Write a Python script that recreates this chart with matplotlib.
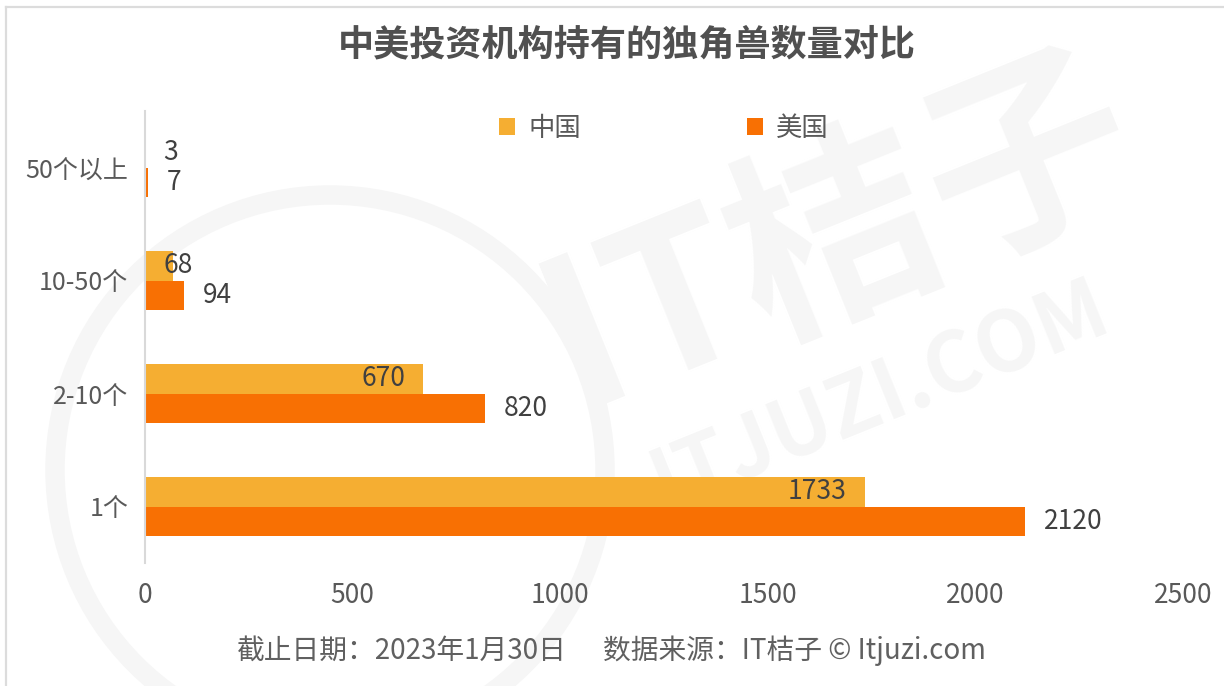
import matplotlib.pyplot as plt
from matplotlib.patches import Circle
from matplotlib.lines import Line2D
import numpy as np

plt.rcParams['font.family'] = ['Noto Sans CJK SC', 'DejaVu Sans']

categories = ['1个', '2-10个', '10-50个', '50个以上']
china = [1733, 670, 68, 3]
usa = [2120, 820, 94, 7]
series_names = ['中国', '美国']
xticks = [0, 500, 1000, 1500, 2000, 2500]

c_china = '#F5AE32'
c_usa = '#F87003'
txt = '#404040'

fig = plt.figure(figsize=(12.24, 6.86), dpi=100)
W, H = 1224, 686

# faint watermark behind everything
wm = '#f6f6f6'
ring = Circle((330, H - 470), 275, transform=None, fill=False, lw=14, ec=wm, zorder=-5)
fig.patches.append(ring)
fig.text(840 / W, 1 - 235 / H, 'IT桔子', fontsize=150, color=wm, rotation=22,
         ha='center', va='center', fontweight='bold', zorder=-5)
fig.text(880 / W, 1 - 395 / H, 'ITJUZI.COM', fontsize=60, color=wm, rotation=22,
         ha='center', va='center', fontweight='bold', zorder=-5)

# thin frame on top and left
fig.add_artist(Line2D([6 / W, 1], [1 - 7 / H, 1 - 7 / H], transform=fig.transFigure,
                      color='#dcdcdc', lw=1.6))
fig.add_artist(Line2D([6 / W, 6 / W], [0, 1 - 7 / H], transform=fig.transFigure,
                      color='#dcdcdc', lw=1.6))

ax = fig.add_axes([145 / W, 1 - 563 / H, (1183 - 145) / W, (563 - 111) / H])
ax.patch.set_alpha(0)

y = np.arange(len(categories))
h = 0.26
ax.barh(y + h / 2, china, height=h, color=c_china, label=series_names[0], zorder=2)
ax.barh(y - h / 2, usa, height=h, color=c_usa, label=series_names[1], zorder=2)

for yi, v in zip(y, china):
    if v >= 500:
        ax.text(v - 43, yi + h / 2, str(v), ha='right', va='center', fontsize=19, color=txt)
    else:
        ax.text(45, yi + h / 2, str(v), ha='left', va='center', fontsize=19, color=txt)
for yi, v in zip(y, usa):
    ax.text(v + 45, yi - h / 2, str(v), ha='left', va='center', fontsize=19, color=txt)

ax.set_xlim(0, 2500)
ax.set_ylim(-0.5, 3.5)
ax.set_yticks(y)
ax.set_yticklabels(categories, fontsize=18, color='#595959')
ax.set_xticks(xticks)
ax.set_xticklabels([str(t) for t in xticks], fontsize=19, color='#595959')
ax.tick_params(length=0)
ax.tick_params(axis='y', pad=12)
ax.tick_params(axis='x', pad=14)
for s in ['top', 'right', 'bottom']:
    ax.spines[s].set_visible(False)
ax.spines['left'].set_color('#d9d9d9')
ax.spines['left'].set_linewidth(1.5)

ax.legend(loc='center', bbox_to_anchor=(0.5, 1 - 17 / 452), ncol=2, frameon=False,
          fontsize=19, handlelength=0.6, handleheight=0.6, columnspacing=6.3,
          handletextpad=0.5, labelcolor='#595959')

fig.text(627 / W, 1 - 45 / H, '中美投资机构持有的独角兽数量对比', ha='center', va='center',
         fontsize=26, fontweight='bold', color='#505050')
fig.text(567 / W, 1 - 651 / H, '截止日期：2023年1月30日',
         ha='right', va='center', fontsize=20, color='#606060')
fig.text(603 / W, 1 - 651 / H, '数据来源：IT桔子 © Itjuzi.com',
         ha='left', va='center', fontsize=20, color='#606060')

fig.savefig('out.png', dpi=100)
